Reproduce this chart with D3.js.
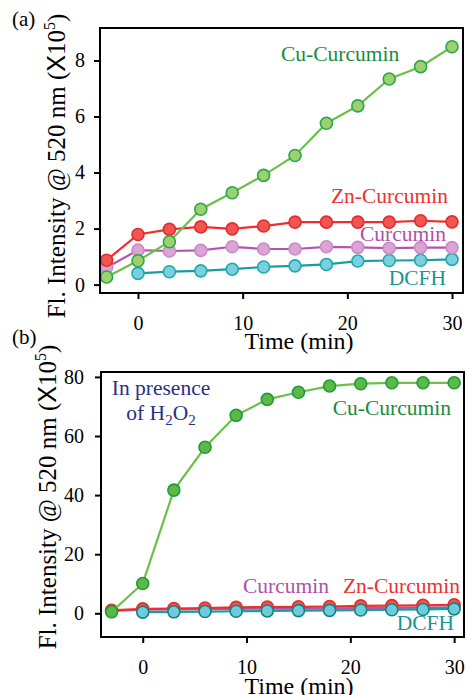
<!DOCTYPE html>
<html>
<head>
<meta charset="utf-8">
<script src="https://cdn.jsdelivr.net/npm/d3@7/dist/d3.min.js"></script>
<style>
  body { margin: 0; background: #fff; }
  text { font-family: "Liberation Serif", "Times New Roman", serif; }
</style>
</head>
<body>
<svg id="chart" width="466" height="695"></svg>
<script>
// time points (min)
var times = [-3, 0, 3, 6, 9, 12, 15, 18, 21, 24, 27, 30];
var xTicks = [0, 10, 20, 30];

// panel (a): without H2O2, intensity x10^5
var cuA   = [0.27, 0.85, 1.53, 2.69, 3.28, 3.90, 4.61, 5.76, 6.38, 7.34, 7.78, 8.49];
var znA   = [0.87, 1.79, 1.97, 2.06, 1.99, 2.09, 2.23, 2.23, 2.23, 2.23, 2.28, 2.24];
var curA  = [0.61, 1.23, 1.20, 1.22, 1.35, 1.27, 1.27, 1.35, 1.33, 1.30, 1.32, 1.32];
var dcfhA = [null, 0.40, 0.46, 0.49, 0.55, 0.63, 0.67, 0.72, 0.84, 0.86, 0.87, 0.90];
var yTicksA = [0, 2, 4, 6, 8];

// panel (b): in presence of H2O2
var cuB   = [0.5, 10.1, 41.7, 56.2, 67.0, 72.4, 74.8, 76.9, 77.7, 78.0, 78.0, 78.0];
var znB   = [1.0, 1.5, 1.6, 1.8, 2.0, 2.1, 2.2, 2.3, 2.5, 2.6, 2.7, 2.9];
var curB  = [0.8, 1.2, 1.3, 1.4, 1.5, 1.6, 1.6, 1.7, 1.8, 1.8, 1.9, 2.0];
var dcfhB = [null, 0.4, 0.5, 0.6, 0.7, 0.8, 0.9, 1.0, 1.1, 1.2, 1.3, 1.5];
var yTicksB = [0, 20, 40, 60, 80];

var svg = d3.select("#chart");

function toPts(vals) {
  var pts = [];
  for (var i = 0; i < times.length; i++) {
    if (vals[i] != null) pts.push({t: times[i], v: vals[i]});
  }
  return pts;
}

function drawPanel(p) {
  var x = d3.scaleLinear().domain(p.xd).range([p.left, p.right]);
  var y = d3.scaleLinear().domain(p.yd).range([p.bottom, p.top]);

  var g = svg.append("g");

  var xAxis = d3.axisBottom(x).tickValues(xTicks).tickSize(6).tickPadding(17);
  var yAxis = d3.axisLeft(y).tickValues(p.yTicks).tickSize(6).tickPadding(p.ypad);

  var gx = g.append("g")
      .attr("transform", "translate(0," + p.bottom + ")")
      .call(xAxis);
  var gy = g.append("g")
      .attr("transform", "translate(" + p.left + ",0)")
      .call(yAxis);
  [gx, gy].forEach(function(a) {
    a.select(".domain").remove();
    a.selectAll("line").attr("stroke", "#000").attr("stroke-width", 2);
    a.selectAll("text")
      .attr("fill", "#000")
      .style("font-family", '"Liberation Serif", serif')
      .style("font-size", "20px");
  });

  var line = d3.line()
      .x(function(d) { return x(d.t); })
      .y(function(d) { return y(d.v); });

  p.series.forEach(function(s) {
    var pts = toPts(s.vals);
    g.append("path")
        .datum(pts)
        .attr("fill", "none")
        .attr("stroke", s.line)
        .attr("stroke-width", 2.2)
        .attr("d", line);
    g.selectAll(null)
        .data(pts)
      .enter().append("circle")
        .attr("cx", function(d) { return x(d.t); })
        .attr("cy", function(d) { return y(d.v); })
        .attr("r", 6)
        .attr("fill", s.fill)
        .attr("stroke", s.stroke)
        .attr("stroke-width", 1.6);
  });

  // frame
  g.append("rect")
      .attr("x", p.left).attr("y", p.top)
      .attr("width", p.right - p.left).attr("height", p.bottom - p.top)
      .attr("fill", "none").attr("stroke", "#000").attr("stroke-width", 2);

  // axis titles
  g.append("text")
      .attr("x", p.timeX).attr("y", p.timeY)
      .attr("text-anchor", "middle")
      .style("font-size", "24px")
      .text("Time (min)");

  var yl = g.append("text")
      .attr("transform", "translate(" + p.ylabX + "," + p.ylabY + ") rotate(-90)")
      .attr("text-anchor", "middle")
      .style("font-size", "25px");
  yl.append("tspan").text("Fl. Intensity @ 520 nm (");
  yl.append("tspan").style("font-family", '"Liberation Sans", Arial, sans-serif').text("X");
  yl.append("tspan").text("10");
  yl.append("tspan").attr("dy", -10).style("font-size", "16px").text("5");
  yl.append("tspan").attr("dy", 10).text(")");

  g.append("text")
      .attr("x", 12).attr("y", p.tagY)
      .style("font-size", "21px")
      .text(p.tag);

  p.labels.forEach(function(l) {
    g.append("text")
        .attr("x", l.x).attr("y", l.y)
        .attr("text-anchor", l.anchor || "start")
        .attr("fill", l.color)
        .style("font-size", "21.5px")
        .text(l.text);
  });
  return g;
}

var cuLine = "#6cc04a", znLine = "#ee2d2d", curLine = "#b454b0", dcLine = "#179d9d";

drawPanel({
  left: 100, right: 463, top: 28, bottom: 293,
  xd: [-3.63, 31.05], yd: [-0.3, 9.16], yTicks: yTicksA, ypad: 9,
  timeX: 299, timeY: 349, ylabX: 65, ylabY: 166, tag: "(a)", tagY: 26,
  series: [
    {vals: dcfhA, line: dcLine, fill: "#7bd0e0", stroke: "#1fa9ae"},
    {vals: curA, line: curLine, fill: "#daa4d4", stroke: "#c98ac5"},
    {vals: znA, line: znLine, fill: "#f05552", stroke: "#e52b2b"},
    {vals: cuA, line: cuLine, fill: "#9dd06f", stroke: "#28a84a"}
  ],
  labels: [
    {text: "Cu-Curcumin", x: 281, y: 61, color: "#1a8c3d"},
    {text: "Zn-Curcumin", x: 448, y: 203, color: "#ee3030", anchor: "end"},
    {text: "Curcumin", x: 446, y: 241, color: "#b04fab", anchor: "end"},
    {text: "DCFH", x: 446, y: 285, color: "#1a9494", anchor: "end"}
  ]
});

var gb = drawPanel({
  left: 101, right: 464, top: 372, bottom: 637,
  xd: [-4.02, 30.95], yd: [-8.02, 81.66], yTicks: yTicksB, ypad: 11,
  timeX: 299, timeY: 694, ylabX: 56, ylabY: 497, tag: "(b)", tagY: 344,
  series: [
    {vals: curB, line: curLine, fill: "#daa4d4", stroke: "#c98ac5"},
    {vals: znB, line: znLine, fill: "#f05552", stroke: "#e52b2b"},
    {vals: dcfhB, line: dcLine, fill: "#6fcbdc", stroke: "#13837f"},
    {vals: cuB, line: cuLine, fill: "#5cb947", stroke: "#1e9b3c"}
  ],
  labels: [
    {text: "Cu-Curcumin", x: 451, y: 415, color: "#1a8c3d", anchor: "end"},
    {text: "Curcumin", x: 243, y: 593, color: "#b04fab"},
    {text: "Zn-Curcumin", x: 460, y: 593, color: "#ee3030", anchor: "end"},
    {text: "DCFH", x: 454, y: 630, color: "#1a9494", anchor: "end"}
  ]
});

// "In presence of H2O2" note
var note = gb.append("text")
    .attr("text-anchor", "middle")
    .attr("fill", "#2b2f86")
    .style("font-size", "21.5px");
note.append("tspan").attr("x", 161).attr("y", 395).text("In presence");
var l2 = gb.append("text")
    .attr("x", 161).attr("y", 420)
    .attr("text-anchor", "middle")
    .attr("fill", "#2b2f86")
    .style("font-size", "21.5px");
l2.append("tspan").text("of H");
l2.append("tspan").attr("dy", 5).style("font-size", "15px").text("2");
l2.append("tspan").attr("dy", -5).text("O");
l2.append("tspan").attr("dy", 5).style("font-size", "15px").text("2");
</script>
</body>
</html>
